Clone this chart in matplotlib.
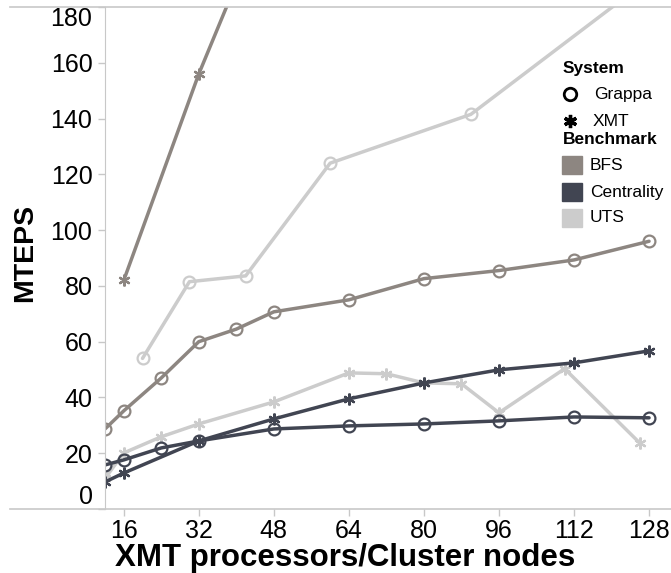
import matplotlib
matplotlib.use("Agg")
import matplotlib.pyplot as plt
from matplotlib.lines import Line2D
from matplotlib.patches import Rectangle

plt.rcParams['font.family'] = ['Liberation Sans', 'DejaVu Sans']

# data
bfs_grappa_x = [12, 16, 24, 32, 40, 48, 64, 80, 96, 112, 128]
bfs_grappa_y = [28.7, 35.2, 47, 60, 64.5, 70.7, 75, 82.6, 85.5, 89.3, 96]
bfs_xmt_x = [16, 32, 48]
bfs_xmt_y = [82, 156, 221]
cen_grappa_x = [12, 16, 24, 32, 48, 64, 80, 96, 112, 128]
cen_grappa_y = [15.8, 17.6, 21.9, 24.4, 28.7, 29.8, 30.5, 31.6, 33, 32.7]
cen_xmt_x = [12, 16, 32, 48, 64, 80, 96, 112, 128]
cen_xmt_y = [9.7, 12.9, 24.4, 32.3, 39.5, 45.2, 49.9, 52.4, 56.7]
uts_grappa_x = [20, 30, 42, 60, 90, 128]
uts_grappa_y = [54, 81.5, 83.6, 124, 141.5, 190]
uts_xmt_x = [12, 16, 24, 32, 48, 64, 72, 80, 88, 96, 110, 126]
uts_xmt_y = [11, 20.1, 25.9, 30.5, 38.4, 48.8, 48.5, 45.2, 44.9, 34.5, 50.3, 23.7]

xticks = [16, 32, 48, 64, 80, 96, 112, 128]
yticks = [0, 20, 40, 60, 80, 100, 120, 140, 160, 180]

c_bfs = '#8d8681'
c_cen = '#414552'
c_uts = '#cccccc'
c_axis = '#c8c8c8'
ast = (6, 2, 0)

W, H = 671, 573
fig = plt.figure(figsize=(W / 100, H / 100), dpi=100)
ax = fig.add_axes([105 / W, 1 - 509 / H, 1 - 105 / W, (509 - 7) / H])

lw = 2.5
ms = 8.5
series = [
    (uts_grappa_x, uts_grappa_y, c_uts, 'o'),
    (uts_xmt_x, uts_xmt_y, c_uts, ast),
    (bfs_grappa_x, bfs_grappa_y, c_bfs, 'o'),
    (bfs_xmt_x, bfs_xmt_y, c_bfs, ast),
    (cen_grappa_x, cen_grappa_y, c_cen, 'o'),
    (cen_xmt_x, cen_xmt_y, c_cen, ast),
]
for xs, ys, col, mk in series:
    ax.plot(xs, ys, color=col, lw=lw, marker=mk, ms=ms, mfc='none',
            mec=col, mew=1.6, solid_capstyle='round')

ax.set_xlim(12, 12 + (W - 105) / 4.69)
ax.set_ylim(0, 180)
ax.set_xticks(xticks)
ax.set_yticks(yticks)
for s in ['top', 'right', 'bottom']:
    ax.spines[s].set_visible(False)
ax.spines['left'].set_color(c_axis)
ax.tick_params(axis='both', colors=c_axis, labelcolor='black', labelsize=18,
               length=5, width=1)
ax.tick_params(axis='y', pad=4)
ax.tick_params(axis='x', pad=2)
ylabels = ax.get_yticklabels()
ylabels[0].set_verticalalignment('bottom')
ylabels[-1].set_verticalalignment('top')

# top and bottom rules that run across the whole pane
fig.add_artist(Line2D([10 / W, 1], [1 - 509 / H, 1 - 509 / H], color=c_axis, lw=1.2))
fig.add_artist(Line2D([10 / W, 1], [1 - 7 / H, 1 - 7 / H], color=c_axis, lw=1.2))

fig.text(345 / W, 1 - 558 / H, 'XMT processors/Cluster nodes', ha='center',
         va='center', fontsize=22.5, fontweight='bold')
fig.text(25 / W, 1 - 253 / H, 'MTEPS', ha='center', va='center', rotation=90,
         fontsize=20.5, fontweight='bold')

# legend
def fy(y):
    return 1 - y / H

fig.text(563 / W, fy(69), 'System', fontsize=12.5, fontweight='bold', va='center')
fig.add_artist(Line2D([570 / W], [fy(94)], marker='o', ms=9, mfc='none', mec='black', mew=2))
fig.text(594 / W, fy(94), 'Grappa', fontsize=12.5, va='center')
fig.add_artist(Line2D([570 / W], [fy(121)], marker=ast, ms=9.5, mec='black', mew=2.4))
fig.text(593 / W, fy(121), 'XMT', fontsize=12.5, va='center')
fig.text(563 / W, fy(140), 'Benchmark', fontsize=12.5, fontweight='bold', va='center')
for name, col, yc in [('BFS', c_bfs, 165), ('Centrality', c_cen, 192), ('UTS', c_uts, 218)]:
    fig.add_artist(Rectangle((562 / W, fy(yc + 9)), 20 / W, 18 / H, color=col,
                             transform=fig.transFigure))
    fig.text(590 / W, fy(yc), name, fontsize=12.5, va='center')

fig.savefig('out.png', dpi=100)
